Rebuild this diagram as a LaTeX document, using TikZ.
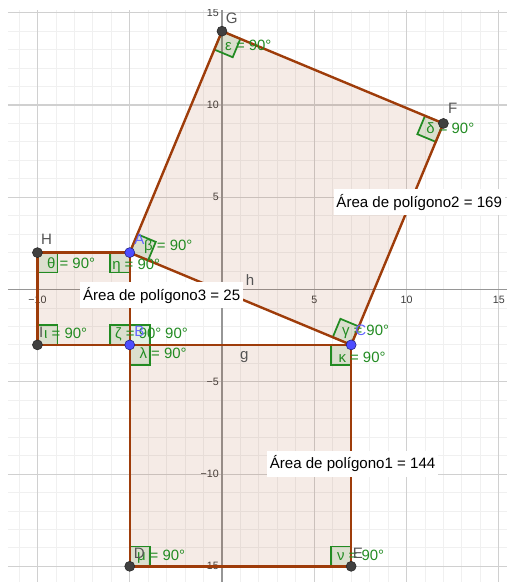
\documentclass[tikz,border=0pt]{standalone}
\usepackage{fontspec}
\setmainfont{Liberation Sans}
\definecolor{gridminor}{RGB}{240,240,240}
\definecolor{gridmajor}{RGB}{208,208,208}
\definecolor{axisgray}{RGB}{150,150,150}
\definecolor{tickgray}{RGB}{60,60,60}
\definecolor{polybrown}{RGB}{158,60,10}
\definecolor{anglegreen}{RGB}{34,139,34}
\definecolor{ptfill}{RGB}{77,77,255}
\definecolor{ptedge}{RGB}{30,30,120}
\definecolor{lblblue}{RGB}{100,100,255}
\definecolor{lblgray}{RGB}{85,85,85}
\begin{document}
\begin{tikzpicture}[
  x=0.4863cm, y=0.4863cm,
  minorgrid/.style={draw=gridminor, line width=0.6pt},
  majorgrid/.style={draw=gridmajor, line width=0.8pt},
  axisline/.style={draw=axisgray, line width=0.9pt},
  ticklbl/.style={font=\fontsize{8}{9.5}\selectfont, text=tickgray, inner sep=0pt},
  face/.style={fill=polybrown, fill opacity=0.1},
  side/.style={draw=polybrown, line width=1.8pt, line join=round},
  rmark/.style={draw=anglegreen, fill=anglegreen, fill opacity=0.12, line width=1.3pt},
  anglbl/.style={font=\fontsize{11.2}{13}\selectfont, text=anglegreen, inner sep=0pt, anchor=west, text height=8pt, text depth=0pt},
  darkpt/.style={circle, fill=black!75, draw=black!85, inner sep=0pt, minimum size=7.5pt},
  bluept/.style={circle, fill=ptfill, draw=ptedge, inner sep=0pt, minimum size=7.5pt},
  ptlbl/.style={font=\fontsize{11.3}{13}\selectfont, text=lblgray, inner sep=0pt},
  areabox/.style={fill=white, anchor=west, inner xsep=2.2pt, minimum height=19.5pt, font=\fontsize{11.3}{13}\selectfont, text height=8pt, text depth=0pt}
]
  \useasboundingbox (-12.03,-15.85) rectangle (15.45,15.69);
  \clip (-11.6,-15.85) rectangle (15.45,15.15);

  \draw[minorgrid, step=1] (-11.6,-15.85) grid (15.45,15.15);
  \draw[majorgrid, step=5] (-11.6,-15.85) grid (15.45,15.15);
  \draw[axisline] (-11.6,0) -- (15.45,0);
  \draw[axisline] (0,-15.85) -- (0,15.15);

  \node[ticklbl] (tx1) at (-10,-0.57) {−10};
  \node[ticklbl] (tx2) at (5,-0.57) {5};
  \node[ticklbl] (tx3) at (10,-0.57) {10};
  \node[ticklbl] (tx4) at (15,-0.57) {15};
  \node[ticklbl, anchor=east] (ty1) at (-0.16,15) {15};
  \node[ticklbl, anchor=east] (ty2) at (-0.16,10) {10};
  \node[ticklbl, anchor=east] (ty3) at (-0.16,5) {5};
  \node[ticklbl, anchor=east] (ty4) at (-0.16,-5) {−5};
  \node[ticklbl, anchor=east] (ty5) at (-0.16,-10) {−10};
  \node[ticklbl, anchor=east] (ty6) at (-0.16,-15) {−15};

  \coordinate (A) at (-5,2);
  \coordinate (B) at (-5,-3);
  \coordinate (C) at (7,-3);
  \coordinate (D) at (-5,-15);
  \coordinate (E) at (7,-15);
  \coordinate (F) at (12,9);
  \coordinate (G) at (0,14);
  \coordinate (H) at (-10,2);
  \coordinate (I) at (-10,-3);

  \fill[face] (B) -- (C) -- (E) -- (D) -- cycle;
  \fill[face] (A) -- (C) -- (F) -- (G) -- cycle;
  \fill[face] (H) -- (A) -- (B) -- (I) -- cycle;

  \draw[rmark] (H) rectangle ++(1.08,-1.08);
  \draw[rmark] (A) rectangle ++(-1.08,-1.08);
  \draw[rmark] (I) rectangle ++(1.08,1.08);
  \draw[rmark] (B) rectangle ++(-1.08,1.08);
  \draw[rmark] (B) rectangle ++(1.08,1.08);
  \draw[rmark] (B) rectangle ++(1.08,-1.08);
  \draw[rmark] (C) rectangle ++(-1.08,-1.08);
  \draw[rmark] (D) rectangle ++(1.08,1.08);
  \draw[rmark] (E) rectangle ++(-1.08,1.08);
  \draw[rmark] (A) -- ++(-22.62:1.08) -- ++(67.38:1.08) -- ++(157.38:1.08) -- cycle;
  \draw[rmark] (C) -- ++(157.38:1.08) -- ++(67.38:1.08) -- ++(-22.62:1.08) -- cycle;
  \draw[rmark] (F) -- ++(247.38:1.08) -- ++(157.38:1.08) -- ++(67.38:1.08) -- cycle;
  \draw[rmark] (G) -- ++(-22.62:1.08) -- ++(247.38:1.08) -- ++(157.38:1.08) -- cycle;

  \draw[side] (B) -- (C) -- (E) -- (D) -- cycle;
  \draw[side] (A) -- (C) -- (F) -- (G) -- cycle;
  \draw[side] (H) -- (A) -- (B) -- (I) -- cycle;

  \node[anglbl] (lth) at (-9.49,1.41) {θ = 90°};
  \node[anglbl] (let) at (-5.96,1.38) {η = 90°};
  \node[anglbl] (lbe) at (-4.23,2.41) {β = 90°};
  \node[anglbl] (lio) at (-9.65,-2.34) {ι = 90°};
  \node[anglbl] (lze) at (-5.80,-2.34) {ζ = 90°};
  \node[anglbl] (lal) at (-3.09,-2.34) {90°};
  \node[anglbl] (lla) at (-4.48,-3.46) {λ = 90°};
  \node[anglbl] (lga) at (6.49,-2.20) {γ = 90°};
  \node[anglbl] (lka) at (6.30,-3.64) {κ = 90°};
  \node[anglbl] (lep) at (0.16,13.25) {ε = 90°};
  \node[anglbl] (lde) at (11.06,8.74) {δ = 90°};
  \node[anglbl] (lmu) at (-4.62,-14.39) {μ = 90°};
  \node[anglbl] (lnu) at (6.22,-14.39) {ν = 90°};

  \node[darkpt] (pD) at (D) {};
  \node[darkpt] (pE) at (E) {};
  \node[darkpt] (pF) at (F) {};
  \node[darkpt] (pG) at (G) {};
  \node[darkpt] (pH) at (H) {};
  \node[darkpt] (pI) at (I) {};
  \node[bluept] (pA) at (A) {};
  \node[bluept] (pB) at (B) {};
  \node[bluept] (pC) at (C) {};

  \node[ptlbl] (nH) at (-9.50,2.74) {H};
  \node[ptlbl] (nI) at (-9.80,-2.34) {I};
  \node[ptlbl] (nD) at (-4.48,-14.28) {D};
  \node[ptlbl] (nE) at (7.37,-14.30) {E};
  \node[ptlbl] (nF) at (12.50,9.82) {F};
  \node[ptlbl] (nG) at (0.53,14.70) {G};
  \node[ptlbl, text=lblblue] (nA) at (-4.48,2.74) {A};
  \node[ptlbl, text=lblblue] (nB) at (-4.48,-2.29) {B};
  \node[ptlbl, text=lblblue] (nC) at (7.53,-2.20) {C};
  \node[ptlbl] (nh) at (1.52,0.51) {h};
  \node[ptlbl] (ng) at (1.21,-3.64) {g};

  \node[areabox] (area3) at (-7.70,-0.29) {Área de polígono3 = 25};
  \node[areabox] (area2) at (6.03,4.72) {Área de polígono2 = 169};
  \node[areabox] (area1) at (2.42,-9.43) {Área de polígono1 = 144};
\end{tikzpicture}
\end{document}
